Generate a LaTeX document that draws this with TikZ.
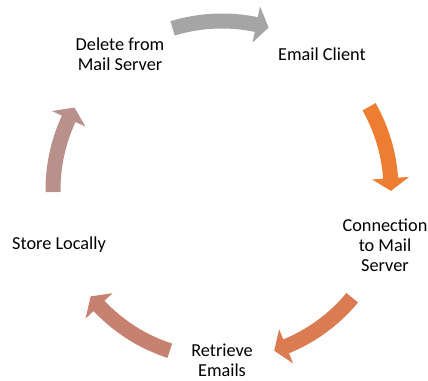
\documentclass[tikz,border=0pt]{standalone}
\usepackage{fontspec}
\setmainfont{Carlito}
\usetikzlibrary{arrows}

\definecolor{cycA}{HTML}{ED7D31}
\definecolor{cycB}{HTML}{DA7B52}
\definecolor{cycC}{HTML}{C78170}
\definecolor{cycD}{HTML}{B8918A}
\definecolor{cycE}{HTML}{A5A5A5}

\begin{document}
\begin{tikzpicture}[x=0.025cm, y=0.025cm,
        step label/.style={align=center, font=\fontsize{13}{14.2}\selectfont}]
        \useasboundingbox (-222,-191) rectangle (206,190);
        \coordinate (c) at (0,0);

        \draw (100,136) node[step label] (email) {Email Client};
        \draw (163,-55) node[step label] (conn) {Connection\\to Mail\\Server};
        \draw (0,-170) node[step label] (retr) {Retrieve\\Emails};
        \draw (-163,-55) node[step label] (store) {Store Locally};
        \draw (-102,136) node[step label] (del) {Delete from\\Mail Server};

        % block arrows round (c), tail angle / tip angle / colour
        \foreach \a/\b/\col in {107/74/cycE, 29.5/-0.3/cycA, -39.6/-72/cycB, -108/-141/cycC, 180.7/150.8/cycD} {
            \pgfmathsetmacro{\h}{\b+4.3}
            \fill[\col, shift={(c)}] (\a:176.5) arc[start angle=\a, end angle=\h, radius=176.5]
                -- (\h:187.5) -- (\b:169) -- (\h:150.5) -- (\h:161.5)
                arc[start angle=\h, end angle=\a, radius=161.5] -- cycle;
        }
\end{tikzpicture}
\end{document}
